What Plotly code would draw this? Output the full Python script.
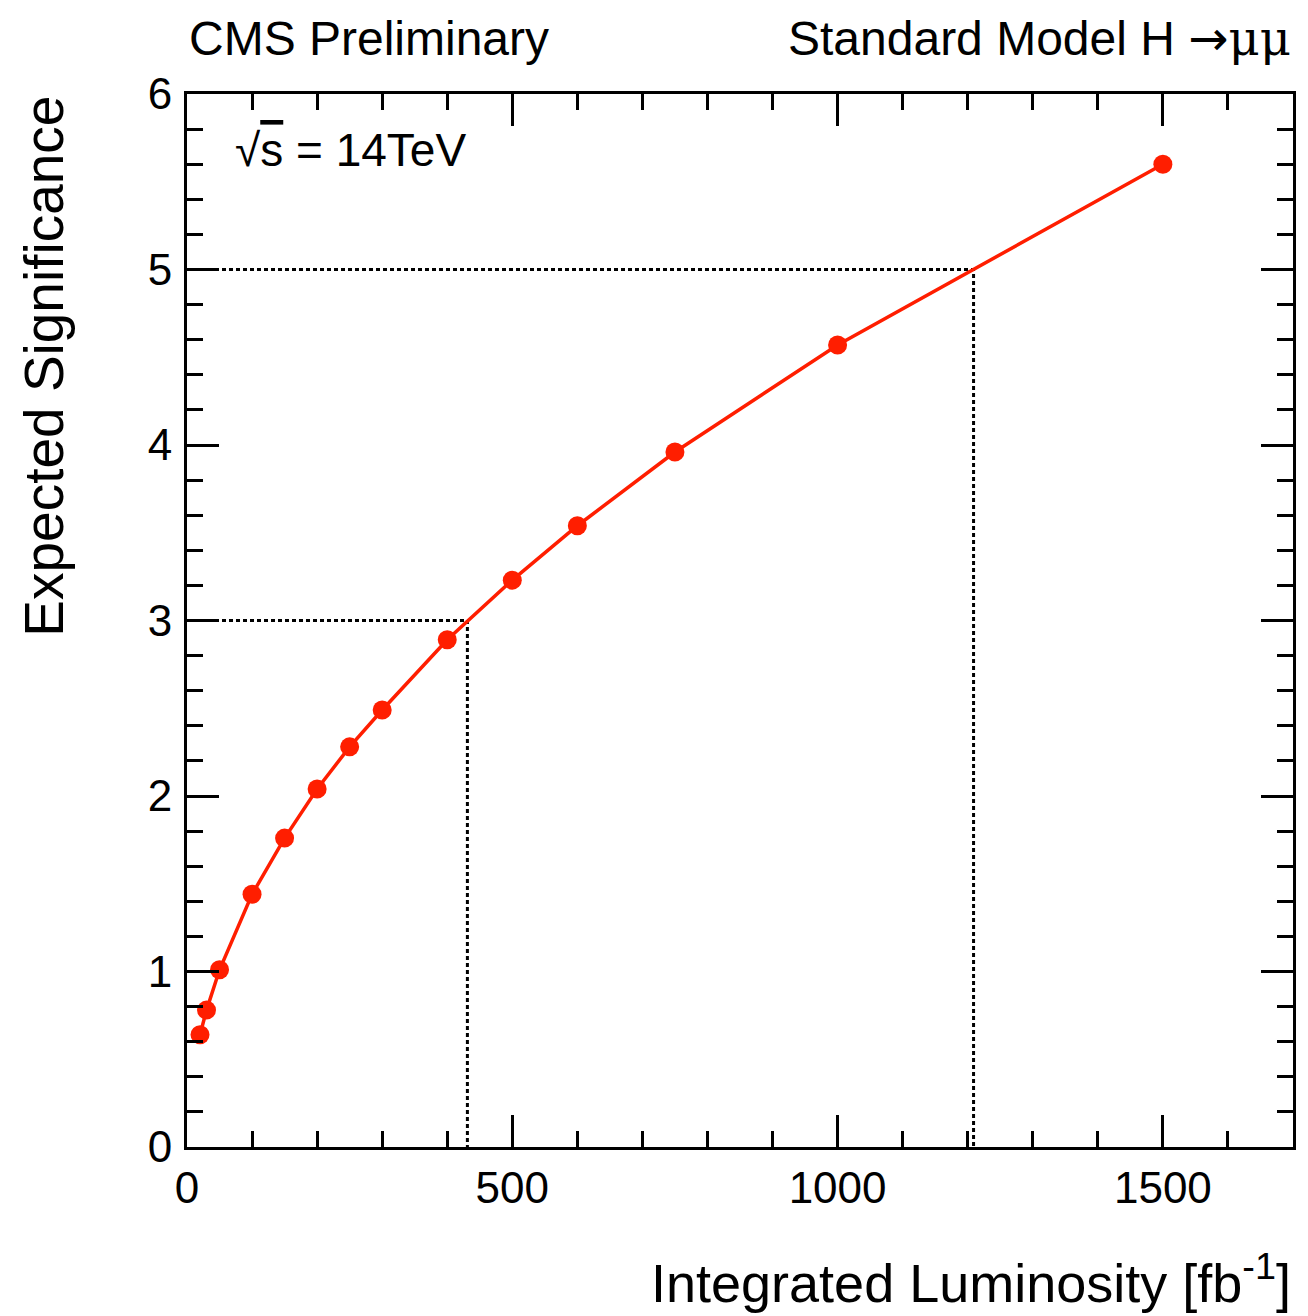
import plotly.graph_objects as go

lumi = [20, 30, 50, 100, 150, 200, 250, 300, 400, 500, 600, 750, 1000, 1500]
signif = [0.64, 0.78, 1.01, 1.44, 1.76, 2.04, 2.28, 2.49, 2.89, 3.23, 3.54, 3.96, 4.57, 5.60]

thresh_sig = [3, 5]
thresh_lumi = [431, 1209]

x_ticks = [0, 500, 1000, 1500]
y_ticks = [0, 1, 2, 3, 4, 5, 6]

RED = "#ff1e00"
FONT = "Liberation Sans, Arial, Helvetica, sans-serif"

fig = go.Figure()

for s, l in zip(thresh_sig, thresh_lumi):
    fig.add_trace(go.Scatter(x=[0, l, l], y=[s, s, 0], mode="lines",
                             line=dict(color="black", width=3, dash="4px,3px"),
                             showlegend=False, hoverinfo="skip"))

fig.add_trace(go.Scatter(x=lumi, y=signif, mode="lines+markers",
                         line=dict(color=RED, width=3.5),
                         marker=dict(color=RED, size=19),
                         showlegend=False))

axis_common = dict(showline=True, linecolor="black", linewidth=3, mirror="ticks",
                   ticks="inside", tickcolor="black", tickwidth=3, ticklen=32,
                   showgrid=False, zeroline=False,
                   tickfont=dict(family=FONT, size=44, color="black"))

fig.update_xaxes(range=[0, 1700], tickvals=x_ticks, ticktext=[str(v) for v in x_ticks],
                 minor=dict(dtick=100, tick0=0, ticks="inside", ticklen=16, tickwidth=3, tickcolor="black"),
                 ticklabelstandoff=0,
                 **axis_common)
fig.update_yaxes(range=[0, 6], tickvals=y_ticks, ticktext=[str(v) for v in y_ticks],
                 minor=dict(dtick=0.2, tick0=0, ticks="inside", ticklen=16, tickwidth=3, tickcolor="black"),
                 ticklabelstandoff=3,
                 **axis_common)

fig.update_layout(
    width=1308, height=1316,
    margin=dict(l=187, r=13, t=94, b=169),
    paper_bgcolor="white", plot_bgcolor="white",
    font=dict(family=FONT, color="black"),
    annotations=[
        dict(text="CMS Preliminary", xref="paper", yref="paper", x=0, y=1.053,
             xanchor="left", yanchor="middle", showarrow=False,
             font=dict(size=48, family=FONT)),
        dict(text="Standard Model H <span style='font-family:DejaVu Sans'>\u2192</span>"
                  "<span style='font-family:DejaVu Serif'>\u03bc\u03bc</span>",
             xref="paper", yref="paper", x=1.0, y=1.053,
             xanchor="right", yanchor="middle", showarrow=False,
             font=dict(size=48, family=FONT)),
        dict(text="\u221a<span style='text-decoration:overline'>s</span> = 14TeV",
             xref="paper", yref="paper", x=0.042, y=0.947,
             xanchor="left", yanchor="middle", showarrow=False,
             font=dict(size=46, family=FONT)),
        dict(text="Integrated Luminosity [fb<sup>-1</sup>]", xref="paper", yref="paper",
             x=1.0, y=-0.125, xanchor="right", yanchor="middle", showarrow=False,
             font=dict(size=54, family=FONT)),
        dict(text="Expected Significance", xref="paper", yref="paper",
             x=-0.13, y=1.0, xanchor="center", yanchor="top", textangle=-90, showarrow=False,
             font=dict(size=55, family=FONT)),
    ],
)

fig.write_html("out.html")
